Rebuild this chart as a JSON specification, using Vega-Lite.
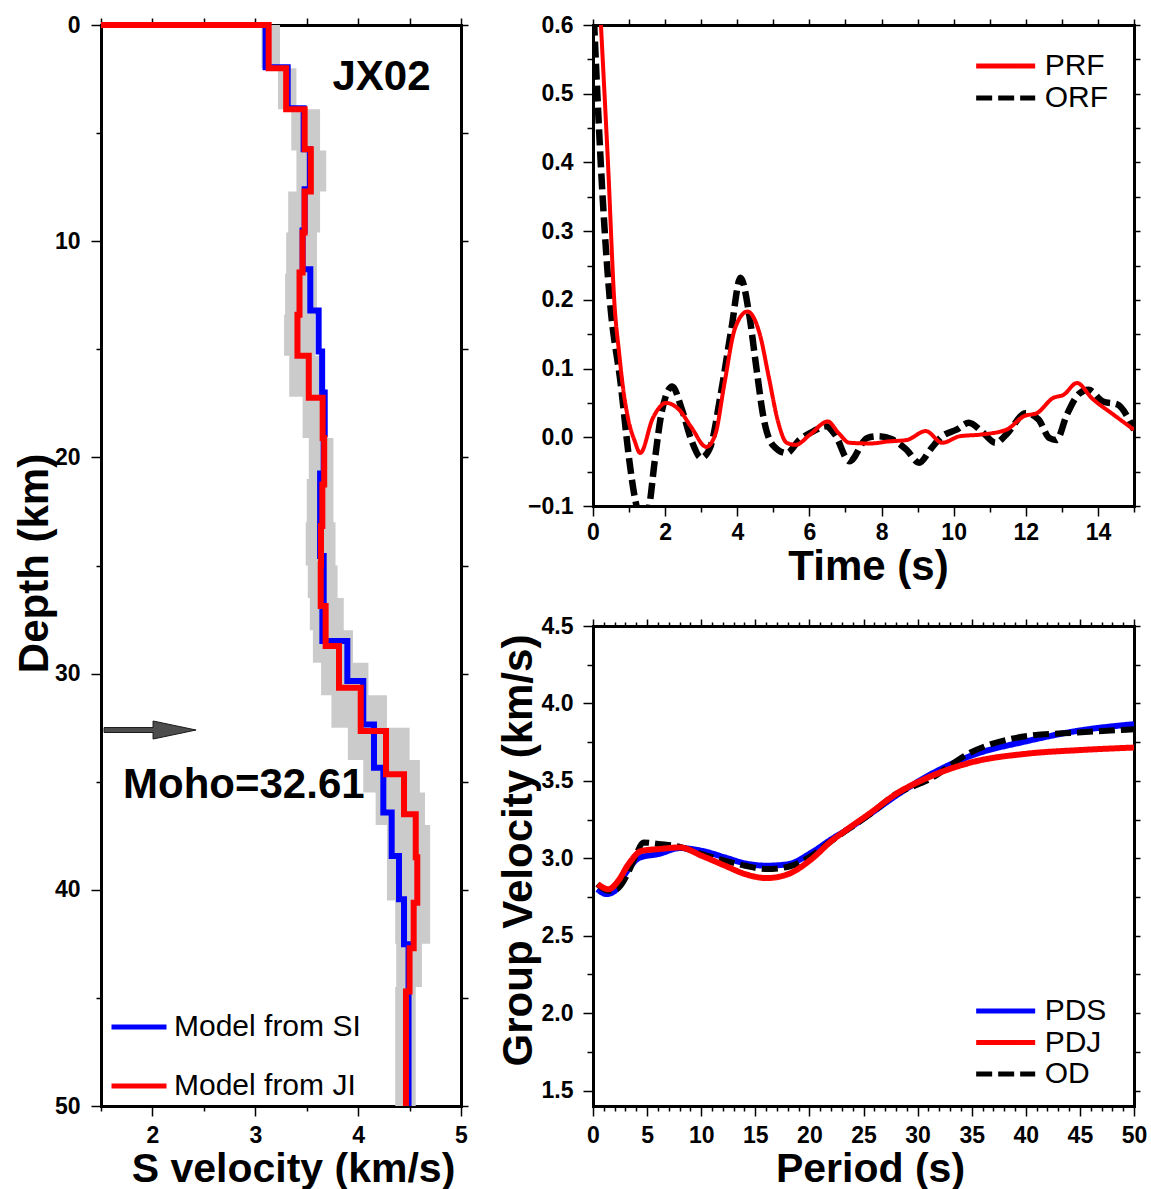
{
  "$schema": "https://vega.github.io/schema/vega-lite/v6.json",
  "padding": {"left": 13, "top": 13, "right": 5, "bottom": 5},
  "background": "white",
  "config": {
    "view": {"stroke": null},
    "font": "Liberation Sans",
    "axis": {
      "domainColor": "black", "domainWidth": 3, "domainCap": "square",
      "tickColor": "black", "tickWidth": 1.5,
      "labelFont": "Liberation Sans", "labelFontSize": 23, "labelFontWeight": "bold", "labelColor": "black",
      "titleFont": "Liberation Sans", "titleFontSize": 42, "titleFontWeight": "bold", "titleColor": "black",
      "grid": false, "labelOverlap": false, "labelFlush": false, "labelBound": false, "zindex": 1
    },
    "legend": {"labelFont": "Liberation Sans", "labelFontSize": 30, "labelColor": "black", "labelLimit": 500}
  },
  "resolve": {"scale": {"color": "independent", "strokeDash": "independent"}},
  "bounds": "flush",
  "spacing": 132,
  "hconcat": [
    {
      "width": 360,
      "height": 1081,
      "resolve": {"axis": {"x": "independent", "y": "independent"}},
      "layer": [
        {
          "data": {"values": [
            {"depth": 0, "lo": 3.06, "hi": 3.24},
            {"depth": 2, "lo": 3.22, "hi": 3.40},
            {"depth": 3.9, "lo": 3.35, "hi": 3.63},
            {"depth": 5.8, "lo": 3.40, "hi": 3.69},
            {"depth": 7.7, "lo": 3.32, "hi": 3.63},
            {"depth": 9.6, "lo": 3.30, "hi": 3.60},
            {"depth": 11.5, "lo": 3.29, "hi": 3.60},
            {"depth": 13.4, "lo": 3.28, "hi": 3.58},
            {"depth": 15.3, "lo": 3.33, "hi": 3.63},
            {"depth": 17.2, "lo": 3.46, "hi": 3.69},
            {"depth": 19.1, "lo": 3.52, "hi": 3.76},
            {"depth": 21, "lo": 3.50, "hi": 3.76},
            {"depth": 23, "lo": 3.49, "hi": 3.78},
            {"depth": 25, "lo": 3.51, "hi": 3.80},
            {"depth": 26.5, "lo": 3.53, "hi": 3.86},
            {"depth": 28, "lo": 3.56, "hi": 3.95},
            {"depth": 29.5, "lo": 3.64, "hi": 4.10},
            {"depth": 31, "lo": 3.74, "hi": 4.28},
            {"depth": 32.5, "lo": 3.90, "hi": 4.50},
            {"depth": 34, "lo": 4.05, "hi": 4.60},
            {"depth": 35.5, "lo": 4.17, "hi": 4.65},
            {"depth": 37, "lo": 4.28, "hi": 4.70},
            {"depth": 40.5, "lo": 4.36, "hi": 4.70},
            {"depth": 42.5, "lo": 4.37, "hi": 4.62},
            {"depth": 44.5, "lo": 4.36, "hi": 4.56},
            {"depth": 50, "lo": 4.36, "hi": 4.56}
          ]},
          "mark": {"type": "area", "orient": "horizontal", "interpolate": "step-before", "color": "#cbcbcb", "opacity": 1},
          "encoding": {
            "y": {"field": "depth", "type": "quantitative",
              "scale": {"domain": [0, 50], "reverse": true, "nice": false, "zero": false},
              "axis": {"orient": "right", "values": [0,5,10,15,20,25,30,35,40,45,50], "tickSize": 7, "labels": false, "title": null}},
            "x": {"field": "lo", "type": "quantitative",
              "scale": {"domain": [1.5, 5], "nice": false, "zero": false},
              "axis": {"orient": "top", "values": [1.5,2,2.5,3,3.5,4,4.5,5], "tickSize": 7, "labels": false, "title": null}},
            "x2": {"field": "hi"}
          }
        },
        {
          "data": {"values": [
            {"depth": 0, "vs": 1.5}, {"depth": 0, "vs": 3.10}, {"depth": 1.95, "vs": 3.315},
            {"depth": 3.85, "vs": 3.47}, {"depth": 5.75, "vs": 3.53}, {"depth": 7.6, "vs": 3.48},
            {"depth": 9.5, "vs": 3.46}, {"depth": 11.3, "vs": 3.535}, {"depth": 13.2, "vs": 3.616},
            {"depth": 15.1, "vs": 3.65}, {"depth": 17.0, "vs": 3.675}, {"depth": 18.93, "vs": 3.665},
            {"depth": 20.75, "vs": 3.63}, {"depth": 22.86, "vs": 3.63}, {"depth": 24.56, "vs": 3.665},
            {"depth": 26.64, "vs": 3.652}, {"depth": 28.49, "vs": 3.895}, {"depth": 30.34, "vs": 4.05},
            {"depth": 32.35, "vs": 4.154}, {"depth": 34.35, "vs": 4.245}, {"depth": 36.43, "vs": 4.326},
            {"depth": 38.44, "vs": 4.397}, {"depth": 40.44, "vs": 4.446}, {"depth": 42.52, "vs": 4.49},
            {"depth": 50, "vs": 4.49}
          ]},
          "mark": {"type": "line", "orient": "horizontal", "interpolate": "step-before", "strokeWidth": 6, "strokeCap": "butt"},
          "encoding": {
            "y": {"field": "depth", "type": "quantitative",
              "axis": {"orient": "left", "values": [0,5,10,15,20,25,30,35,40,45,50],
                "tickSize": {"condition": {"test": "datum.value % 10 === 0", "value": 10}, "value": 5},
                "labelExpr": "datum.value % 10 === 0 ? datum.label : ''",
                "labelPadding": 11, "format": "d",
                "title": "Depth (km)", "titleX": -54, "titleY": 538, "titleBaseline": "alphabetic", "titleAlign": "center"}},
            "x": {"field": "vs", "type": "quantitative",
              "axis": {"orient": "bottom", "values": [2,3,4,5], "tickSize": 10,
                "labelPadding": 8, "format": "d",
                "title": "S velocity (km/s)", "titleX": 192, "titleY": 75, "titleFontSize": 41, "titleBaseline": "alphabetic", "titleAlign": "center"}},
            "color": {"datum": "Model from SI", "type": "nominal",
              "scale": {"domain": ["Model from SI", "Model from JI"], "range": ["#0000ff", "#ff0000"]},
              "legend": {"orient": "none", "legendX": 8, "legendY": 972, "title": null,
                "symbolType": "stroke", "symbolSize": 3025, "symbolStrokeWidth": 5,
                "labelOffset": 5, "rowPadding": 14, "labelFontSize": 30}}
          }
        },
        {
          "data": {"values": [
            {"depth": 0, "vs": 1.5}, {"depth": 0, "vs": 3.13}, {"depth": 2.0, "vs": 3.30},
            {"depth": 3.9, "vs": 3.48}, {"depth": 5.75, "vs": 3.54}, {"depth": 7.7, "vs": 3.48},
            {"depth": 9.6, "vs": 3.46}, {"depth": 11.45, "vs": 3.43}, {"depth": 13.4, "vs": 3.41},
            {"depth": 15.3, "vs": 3.52}, {"depth": 17.24, "vs": 3.655}, {"depth": 19.1, "vs": 3.67},
            {"depth": 21.25, "vs": 3.652}, {"depth": 23.17, "vs": 3.639}, {"depth": 24.95, "vs": 3.636},
            {"depth": 26.87, "vs": 3.684}, {"depth": 28.72, "vs": 3.814}, {"depth": 30.65, "vs": 4.025},
            {"depth": 32.65, "vs": 4.271}, {"depth": 34.66, "vs": 4.446}, {"depth": 36.5, "vs": 4.56},
            {"depth": 38.5, "vs": 4.575}, {"depth": 40.6, "vs": 4.54}, {"depth": 42.7, "vs": 4.50},
            {"depth": 44.7, "vs": 4.465}, {"depth": 50, "vs": 4.465}
          ]},
          "mark": {"type": "line", "orient": "horizontal", "interpolate": "step-before", "strokeWidth": 6, "strokeCap": "butt"},
          "encoding": {
            "y": {"field": "depth", "type": "quantitative", "axis": null},
            "x": {"field": "vs", "type": "quantitative",
              "axis": {"orient": "bottom", "values": [1.5,2.5,3.5,4.5], "tickSize": 5, "labels": false, "title": null}},
            "color": {"datum": "Model from JI", "type": "nominal"}
          }
        },
        {
          "data": {"values": [{"vs": 4.227, "depth": 3.0, "label": "JX02"}]},
          "mark": {"type": "text", "fontSize": 42, "fontWeight": "bold", "font": "Liberation Sans", "align": "center", "baseline": "alphabetic", "color": "black"},
          "encoding": {
            "x": {"field": "vs", "type": "quantitative", "axis": null},
            "y": {"field": "depth", "type": "quantitative", "axis": null},
            "text": {"field": "label"}
          }
        },
        {
          "data": {"values": [{"vs": 1.977, "depth": 32.61}]},
          "mark": {"type": "point", "shape": "M-1,-0.054L0.065,-0.054L0.065,-0.196L1,0L0.065,0.196L0.065,0.054L-1,0.054Z", "size": 8464, "filled": true, "fill": "#4d4d4d", "stroke": "#1a1a1a", "strokeWidth": 1, "opacity": 1},
          "encoding": {
            "x": {"field": "vs", "type": "quantitative", "axis": null},
            "y": {"field": "depth", "type": "quantitative", "axis": null}
          }
        },
        {
          "data": {"values": [{"vs": 1.714, "depth": 35.75, "label": "Moho=32.61"}]},
          "mark": {"type": "text", "fontSize": 42, "fontWeight": "bold", "font": "Liberation Sans", "align": "left", "baseline": "alphabetic", "color": "black"},
          "encoding": {
            "x": {"field": "vs", "type": "quantitative", "axis": null},
            "y": {"field": "depth", "type": "quantitative", "axis": null},
            "text": {"field": "label"}
          }
        }
      ]
    },
    {
      "spacing": 120,
      "bounds": "flush",
      "resolve": {"scale": {"color": "independent", "strokeDash": "independent"}},
      "vconcat": [
        {
          "width": 541,
          "height": 481,
          "resolve": {"axis": {"x": "independent", "y": "independent"}},
          "layer": [
            {
              "data": {"values": [
                {"t": 0.0, "v": 0.64}, {"t": 0.12, "v": 0.5}, {"t": 0.22, "v": 0.394}, {"t": 0.35, "v": 0.28},
                {"t": 0.47, "v": 0.198}, {"t": 0.77, "v": 0.077}, {"t": 1.01, "v": -0.035}, {"t": 1.16, "v": -0.088},
                {"t": 1.3, "v": -0.115}, {"t": 1.45, "v": -0.12}, {"t": 1.56, "v": -0.1}, {"t": 1.71, "v": -0.035},
                {"t": 1.91, "v": 0.038}, {"t": 2.2, "v": 0.074}, {"t": 2.45, "v": 0.043}, {"t": 2.74, "v": -0.006},
                {"t": 3.0, "v": -0.03}, {"t": 3.24, "v": -0.016}, {"t": 3.54, "v": 0.062}, {"t": 3.84, "v": 0.159},
                {"t": 4.09, "v": 0.232}, {"t": 4.33, "v": 0.179}, {"t": 4.53, "v": 0.101}, {"t": 4.73, "v": 0.028},
                {"t": 4.98, "v": -0.011}, {"t": 5.37, "v": -0.023}, {"t": 5.72, "v": -0.004}, {"t": 6.12, "v": 0.009},
                {"t": 6.46, "v": 0.016}, {"t": 6.71, "v": 0.004}, {"t": 7.11, "v": -0.035}, {"t": 7.6, "v": -0.001},
                {"t": 7.9, "v": 0.0015}, {"t": 8.29, "v": -0.003}, {"t": 8.69, "v": -0.018}, {"t": 9.04, "v": -0.037},
                {"t": 9.38, "v": -0.016}, {"t": 9.68, "v": 0.0015}, {"t": 10.08, "v": 0.011}, {"t": 10.42, "v": 0.021},
                {"t": 10.77, "v": 0.009}, {"t": 11.16, "v": -0.008}, {"t": 11.46, "v": 0.004}, {"t": 12.0, "v": 0.035},
                {"t": 12.35, "v": 0.026}, {"t": 12.65, "v": -0.001}, {"t": 12.85, "v": -0.004}, {"t": 13.14, "v": 0.033},
                {"t": 13.49, "v": 0.064}, {"t": 13.74, "v": 0.069}, {"t": 14.14, "v": 0.052}, {"t": 14.53, "v": 0.048},
                {"t": 15.0, "v": 0.011}
              ]},
              "mark": {"type": "line", "interpolate": "monotone", "strokeWidth": 6.5, "strokeCap": "butt", "clip": true},
              "encoding": {
                "x": {"field": "t", "type": "quantitative",
                  "scale": {"domain": [0, 15], "nice": false, "zero": false},
                  "axis": {"orient": "bottom", "values": [0,1,2,3,4,5,6,7,8,9,10,11,12,13,14,15],
                    "tickSize": {"condition": {"test": "datum.value % 2 === 0", "value": 10}, "value": 6},
                    "labelExpr": "datum.value % 2 === 0 ? datum.label : ''",
                    "labelPadding": 5, "format": "d",
                    "title": "Time (s)", "titleX": 275, "titleY": 73, "titleBaseline": "alphabetic", "titleAlign": "center"}},
                "y": {"field": "v", "type": "quantitative",
                  "scale": {"domain": [-0.1, 0.6], "nice": false, "zero": false},
                  "axis": {"orient": "left", "values": [-0.1,-0.05,0,0.05,0.1,0.15,0.2,0.25,0.3,0.35,0.4,0.45,0.5,0.55,0.6],
                    "tickSize": {"condition": {"test": "abs(datum.value*10 - round(datum.value*10)) < 0.001", "value": 10}, "value": 6},
                    "labelExpr": "abs(datum.value*10 - round(datum.value*10)) < 0.001 ? datum.label : ''",
                    "labelPadding": 10, "format": ".1f", "title": null}},
                "color": {"datum": "ORF", "type": "nominal",
                  "scale": {"domain": ["PRF", "ORF"], "range": ["#ff0000", "#000000"]},
                  "legend": {"orient": "none", "legendX": 378, "legendY": 26, "title": null,
                    "symbolType": "M-3,0H3", "symbolSize": 387, "symbolOffset": 19.67, "symbolStrokeWidth": 5,
                    "labelOffset": 24, "rowPadding": 2, "labelFontSize": 30}},
                "strokeDash": {"datum": "ORF", "type": "nominal",
                  "scale": {"domain": ["PRF", "ORF"], "range": [[1, 0], [16, 6]]},
                  "legend": {"orient": "none", "legendX": 378, "legendY": 26, "title": null,
                    "symbolType": "M-3,0H3", "symbolSize": 387, "symbolOffset": 19.67, "symbolStrokeWidth": 5,
                    "labelOffset": 24, "rowPadding": 2, "labelFontSize": 30}}
              }
            },
            {
              "data": {"values": [
                {"t": 0.18, "v": 0.64}, {"t": 0.22, "v": 0.6}, {"t": 0.42, "v": 0.394}, {"t": 0.6, "v": 0.19},
                {"t": 0.72, "v": 0.125}, {"t": 0.82, "v": 0.077}, {"t": 0.97, "v": 0.028}, {"t": 1.16, "v": -0.006},
                {"t": 1.31, "v": -0.023}, {"t": 1.66, "v": 0.028}, {"t": 2.03, "v": 0.05}, {"t": 2.39, "v": 0.04},
                {"t": 2.74, "v": 0.0135}, {"t": 3.14, "v": -0.014}, {"t": 3.39, "v": 0.004}, {"t": 3.64, "v": 0.077},
                {"t": 3.94, "v": 0.159}, {"t": 4.28, "v": 0.183}, {"t": 4.63, "v": 0.149}, {"t": 4.88, "v": 0.086},
                {"t": 5.13, "v": 0.023}, {"t": 5.37, "v": -0.008}, {"t": 5.62, "v": -0.011}, {"t": 6.02, "v": 0.004},
                {"t": 6.51, "v": 0.023}, {"t": 6.81, "v": 0.006}, {"t": 7.11, "v": -0.008}, {"t": 7.7, "v": -0.009},
                {"t": 8.19, "v": -0.006}, {"t": 8.69, "v": -0.004}, {"t": 9.23, "v": 0.009}, {"t": 9.68, "v": -0.008},
                {"t": 10.17, "v": 0.0015}, {"t": 10.77, "v": 0.004}, {"t": 11.46, "v": 0.011}, {"t": 11.96, "v": 0.031},
                {"t": 12.3, "v": 0.035}, {"t": 12.75, "v": 0.057}, {"t": 13.05, "v": 0.062}, {"t": 13.42, "v": 0.079},
                {"t": 13.83, "v": 0.057}, {"t": 14.43, "v": 0.033}, {"t": 15.0, "v": 0.011}
              ]},
              "mark": {"type": "line", "interpolate": "monotone", "strokeWidth": 4, "strokeCap": "butt", "clip": true},
              "encoding": {
                "x": {"field": "t", "type": "quantitative",
                  "axis": {"orient": "top", "values": [0,1,2,3,4,5,6,7,8,9,10,11,12,13,14,15], "tickSize": 6, "labels": false, "title": null}},
                "y": {"field": "v", "type": "quantitative",
                  "axis": {"orient": "right", "values": [-0.1,-0.05,0,0.05,0.1,0.15,0.2,0.25,0.3,0.35,0.4,0.45,0.5,0.55,0.6], "tickSize": 6, "labels": false, "title": null}},
                "color": {"datum": "PRF", "type": "nominal"},
                "strokeDash": {"datum": "PRF", "type": "nominal"}
              }
            }
          ]
        },
        {
          "width": 541,
          "height": 480,
          "resolve": {"axis": {"x": "independent", "y": "independent"}},
          "layer": [
            {
              "data": {"values": [
                {"T": 0.4, "U": 2.80}, {"T": 1.26, "U": 2.769}, {"T": 2.03, "U": 2.79}, {"T": 2.96, "U": 2.898},
                {"T": 4.34, "U": 3.005}, {"T": 6.04, "U": 3.027}, {"T": 8.04, "U": 3.066}, {"T": 10.05, "U": 3.048},
                {"T": 12.2, "U": 3.005}, {"T": 14.05, "U": 2.967}, {"T": 16.05, "U": 2.952}, {"T": 18.05, "U": 2.962},
                {"T": 20.2, "U": 3.037}, {"T": 22.06, "U": 3.124}, {"T": 23.3, "U": 3.177}, {"T": 25.7, "U": 3.29},
                {"T": 27.98, "U": 3.403}, {"T": 30.95, "U": 3.532}, {"T": 34.9, "U": 3.661}, {"T": 40.2, "U": 3.758},
                {"T": 44.8, "U": 3.823}, {"T": 50, "U": 3.866}
              ]},
              "mark": {"type": "line", "interpolate": "monotone", "strokeWidth": 6, "strokeCap": "butt", "clip": true},
              "encoding": {
                "x": {"field": "T", "type": "quantitative",
                  "scale": {"domain": [0, 50], "nice": false, "zero": false},
                  "axis": {"orient": "bottom", "values": [0,1,2,3,4,5,6,7,8,9,10,11,12,13,14,15,16,17,18,19,20,21,22,23,24,25,26,27,28,29,30,31,32,33,34,35,36,37,38,39,40,41,42,43,44,45,46,47,48,49,50],
                    "tickSize": {"condition": {"test": "datum.value % 5 === 0", "value": 10}, "value": 5},
                    "labelExpr": "datum.value % 5 === 0 ? datum.label : ''",
                    "labelPadding": 8, "format": "d",
                    "title": "Period (s)", "titleX": 277, "titleY": 75, "titleFontSize": 41, "titleBaseline": "alphabetic", "titleAlign": "center"}},
                "y": {"field": "U", "type": "quantitative",
                  "scale": {"domain": [1.4, 4.5], "nice": false, "zero": false},
                  "axis": {"orient": "left", "values": [1.5,1.75,2,2.25,2.5,2.75,3,3.25,3.5,3.75,4,4.25,4.5],
                    "tickSize": {"condition": {"test": "datum.value % 0.5 === 0", "value": 10}, "value": 6},
                    "labelExpr": "datum.value % 0.5 === 0 ? datum.label : ''",
                    "labelPadding": 10, "format": ".1f",
                    "title": "Group Velocity (km/s)", "titleX": -62, "titleY": 224, "titleBaseline": "alphabetic", "titleAlign": "center"}},
                "color": {"datum": "PDS", "type": "nominal",
                  "scale": {"domain": ["PDS", "PDJ", "OD"], "range": ["#0000ff", "#ff0000", "#000000"]},
                  "legend": {"orient": "none", "legendX": 378, "legendY": 370, "title": null,
                    "symbolType": "M-3,0H3", "symbolSize": 387, "symbolOffset": 19.67, "symbolStrokeWidth": 5,
                    "labelOffset": 24, "rowPadding": 1.5, "labelFontSize": 30}},
                "strokeDash": {"datum": "PDS", "type": "nominal",
                  "scale": {"domain": ["PDS", "PDJ", "OD"], "range": [[1, 0], [1, 0], [16, 6]]},
                  "legend": {"orient": "none", "legendX": 378, "legendY": 370, "title": null,
                    "symbolType": "M-3,0H3", "symbolSize": 387, "symbolOffset": 19.67, "symbolStrokeWidth": 5,
                    "labelOffset": 24, "rowPadding": 1.5, "labelFontSize": 30}}
              }
            },
            {
              "data": {"values": [
                {"T": 0.4, "U": 2.833}, {"T": 1.42, "U": 2.79}, {"T": 2.2, "U": 2.80}, {"T": 3.26, "U": 2.908},
                {"T": 3.88, "U": 3.005}, {"T": 4.65, "U": 3.102}, {"T": 6.04, "U": 3.092}, {"T": 8.04, "U": 3.074},
                {"T": 10.05, "U": 3.027}, {"T": 12.2, "U": 2.984}, {"T": 14.05, "U": 2.952}, {"T": 16.05, "U": 2.93},
                {"T": 18.05, "U": 2.945}, {"T": 20.2, "U": 3.016}, {"T": 22.06, "U": 3.113}, {"T": 25.7, "U": 3.29},
                {"T": 27.98, "U": 3.414}, {"T": 30.95, "U": 3.504}, {"T": 34.9, "U": 3.683}, {"T": 40.2, "U": 3.79},
                {"T": 44.8, "U": 3.812}, {"T": 50, "U": 3.833}
              ]},
              "mark": {"type": "line", "interpolate": "monotone", "strokeWidth": 6, "strokeCap": "butt", "clip": true},
              "encoding": {
                "x": {"field": "T", "type": "quantitative",
                  "axis": {"orient": "top", "values": [0,1,2,3,4,5,6,7,8,9,10,11,12,13,14,15,16,17,18,19,20,21,22,23,24,25,26,27,28,29,30,31,32,33,34,35,36,37,38,39,40,41,42,43,44,45,46,47,48,49,50],
                    "tickSize": {"condition": {"test": "datum.value % 5 === 0", "value": 7}, "value": 4}, "labels": false, "title": null}},
                "y": {"field": "U", "type": "quantitative",
                  "axis": {"orient": "right", "values": [1.5,1.75,2,2.25,2.5,2.75,3,3.25,3.5,3.75,4,4.25,4.5], "tickSize": 6, "labels": false, "title": null}},
                "color": {"datum": "OD", "type": "nominal"},
                "strokeDash": {"datum": "OD", "type": "nominal"}
              }
            },
            {
              "data": {"values": [
                {"T": 0.45, "U": 2.833}, {"T": 1.42, "U": 2.80}, {"T": 2.34, "U": 2.855}, {"T": 3.26, "U": 2.96},
                {"T": 4.5, "U": 3.048}, {"T": 6.04, "U": 3.059}, {"T": 8.04, "U": 3.07}, {"T": 10.05, "U": 3.016},
                {"T": 12.2, "U": 2.952}, {"T": 14.05, "U": 2.898}, {"T": 16.05, "U": 2.872}, {"T": 18.05, "U": 2.898},
                {"T": 20.2, "U": 2.995}, {"T": 22.06, "U": 3.113}, {"T": 23.3, "U": 3.177}, {"T": 25.7, "U": 3.296},
                {"T": 27.98, "U": 3.414}, {"T": 30.95, "U": 3.521}, {"T": 34.9, "U": 3.618}, {"T": 40.2, "U": 3.676},
                {"T": 44.8, "U": 3.698}, {"T": 50, "U": 3.715}
              ]},
              "mark": {"type": "line", "interpolate": "monotone", "strokeWidth": 6, "strokeCap": "butt", "clip": true},
              "encoding": {
                "x": {"field": "T", "type": "quantitative", "axis": null},
                "y": {"field": "U", "type": "quantitative", "axis": null},
                "color": {"datum": "PDJ", "type": "nominal"},
                "strokeDash": {"datum": "PDJ", "type": "nominal"}
              }
            }
          ]
        }
      ]
    }
  ]
}
